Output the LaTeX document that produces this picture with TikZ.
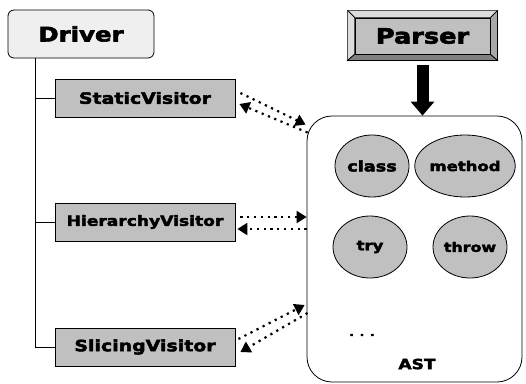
\documentclass[tikz,border=0pt]{standalone}
\usepackage{fontspec}
\usetikzlibrary{arrows.meta,shapes.geometric,calc}
\newfontfamily\heavy{DejaVu Sans Bold}[FakeStretch=1.22,FakeBold=3]
\definecolor{boxgray}{HTML}{C0C0C0}
\definecolor{drvgray}{HTML}{EFEFEF}
\definecolor{bevlight}{HTML}{DCDCDC}
\definecolor{bevmid}{HTML}{A8A8A8}
\definecolor{bevdark}{HTML}{808080}
\tikzset{
  x=1pt, y=-1pt,
  visitor/.style={draw=black, line width=0.8pt, fill=boxgray,
    minimum width=180pt, minimum height=38pt, inner sep=0pt},
  astnode/.style={draw=black, line width=0.8pt, fill=boxgray, ellipse,
    minimum width=74pt, minimum height=62pt, inner sep=0pt},
  treeline/.style={draw=black, line width=0.9pt},
  dotarrow/.style={line width=2.2pt, dash pattern=on 2.2pt off 4.6pt,
    -{Triangle[length=10pt,width=12pt]}},
}
\begin{document}
\begin{tikzpicture}
\useasboundingbox (0,0) rectangle (526,383);

% driver and the three visitors hanging off it
\node[draw=black, line width=0.8pt, fill=drvgray, rounded corners=6pt,
  minimum width=146pt, minimum height=48pt, inner sep=0pt]
  (driver) at (81,34) {\heavy\fontsize{20}{24}\selectfont Driver};
\node[visitor] (static) at (145,98) {\heavy\fontsize{15.5}{18}\selectfont StaticVisitor};
\node[visitor] (hier) at (145,222) {\heavy\fontsize{14}{17}\selectfont HierarchyVisitor};
\node[visitor] (slice) at (145,347) {\heavy\fontsize{15.5}{18}\selectfont SlicingVisitor};

\coordinate (trunk) at (35,58);
\draw[treeline] (trunk) |- (slice.west);
\draw[treeline] (trunk |- static.west) -- (static.west);
\draw[treeline] (trunk |- hier.west) -- (hier.west);

% parser button with bevelled frame
\node[draw=black, line width=0.8pt, fill=boxgray, minimum width=135pt,
  minimum height=36pt, inner sep=0pt]
  (parser) at (422.5,36) {};
\coordinate (po1) at ($(parser.north west)+(-7,-7)$);
\coordinate (po2) at ($(parser.north east)+(7,-7)$);
\coordinate (po3) at ($(parser.south east)+(7,6)$);
\coordinate (po4) at ($(parser.south west)+(-7,6)$);
\filldraw[fill=bevlight, draw=black, line width=0.7pt]
  (po1) -- (po2) -- (parser.north east) -- (parser.north west) -- cycle;
\filldraw[fill=bevlight, draw=black, line width=0.7pt]
  (po1) -- (parser.north west) -- (parser.south west) -- (po4) -- cycle;
\filldraw[fill=bevmid, draw=black, line width=0.7pt]
  (po2) -- (po3) -- (parser.south east) -- (parser.north east) -- cycle;
\filldraw[fill=bevdark, draw=black, line width=0.7pt]
  (po4) -- (parser.south west) -- (parser.south east) -- (po3) -- cycle;
\node[draw=black, line width=0.8pt, fill=boxgray, minimum width=135pt,
  minimum height=36pt, inner sep=0pt]
  (parserface) at (parser) {\heavy\fontsize{21}{25}\selectfont Parser};

% the syntax tree container and its node kinds
\node[draw=black, line width=0.8pt, rounded corners=25pt, minimum width=215pt,
  minimum height=266pt, inner sep=0pt] (ast) at (414.5,249) {};
\node[astnode] (class) at (372,166) {\heavy\fontsize{14.5}{16}\selectfont class};
\node[astnode] (method) at (465,166) {\heavy\fontsize{13.5}{15}\selectfont method};
\node[astnode] (try) at (370,247) {\heavy\fontsize{13.5}{15}\selectfont try};
\node[astnode] (throw) at (470,247) {\heavy\fontsize{13}{15}\selectfont throw};
\node (dots) at (362,335) {\heavy\fontsize{10}{12}\selectfont . . .};
\node (astlabel) at (417,364) {\heavy\fontsize{14}{16}\selectfont AST};

% parser feeds the tree
\draw[line width=12pt, -{Triangle[length=14pt,width=23pt]}]
  ([yshift=-5pt]parser.south |- po4) -- (parser.south |- ast.north);

% visitors walk the tree and report back
\draw[dotarrow] ([xshift=5pt,yshift=5pt]static.east) -- ([xshift=-1pt,yshift=-9pt]ast.north west);
\draw[dotarrow] ([xshift=1pt,yshift=-17pt]ast.north west) -- ([xshift=4pt,yshift=-6pt]static.east);
\draw[dotarrow] ([xshift=5pt,yshift=5pt]hier.east) -- ([yshift=32pt]ast.west);
\draw[dotarrow] ([yshift=20pt]ast.west) -- ([xshift=2pt,yshift=-7pt]hier.east);
\draw[dotarrow] ([xshift=3pt,yshift=8pt]slice.east) -- ([xshift=-2pt,yshift=-56pt]ast.west);
\draw[dotarrow] ([xshift=1pt,yshift=-64pt]ast.west) -- ([xshift=5pt,yshift=-5pt]slice.east);
\end{tikzpicture}
\end{document}
